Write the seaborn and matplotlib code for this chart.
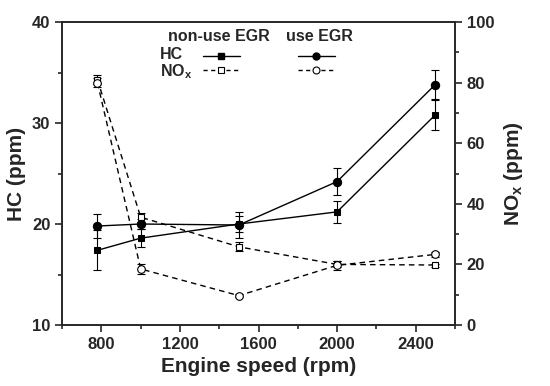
import numpy as np
import pandas as pd
import matplotlib
matplotlib.use('Agg')
import matplotlib.pyplot as plt
import seaborn as sns

# --- data ---
speed = [780, 1000, 1500, 2000, 2500]

hc_non = [17.4, 18.6, 20.0, 21.2, 30.8]
hc_non_err = [2.0, 0.9, 0.8, 1.1, 1.5]
hc_use = [19.8, 20.0, 19.9, 24.2, 33.8]
hc_use_err = [1.2, 0.5, 1.3, 1.3, 1.4]

nox_non = [80.9, 35.6, 25.8, 20.0, 19.8]
nox_non_err = [1.5, 1.5, 1.5, 1.0, 0.5]
nox_use = [79.9, 18.5, 9.7, 19.7, 23.3]
nox_use_err = [1.5, 1.5, 0.5, 1.5, 0.8]

sns.set_style('ticks')
plt.rcParams['font.family'] = ['Liberation Sans', 'DejaVu Sans']
plt.rcParams['font.weight'] = 'bold'
plt.rcParams['mathtext.default'] = 'regular'
plt.rcParams['axes.linewidth'] = 1.2

fig, ax = plt.subplots(figsize=(5.5, 3.86), dpi=100)
fig.subplots_adjust(left=0.113, right=0.827, top=0.943, bottom=0.158)
ax2 = ax.twinx()

df_hc = pd.DataFrame({'speed': speed, 'non': hc_non, 'use': hc_use})
df_nox = pd.DataFrame({'speed': speed, 'non': nox_non, 'use': nox_use})

err_kw = dict(fmt='none', ecolor='black', elinewidth=0.8, capsize=3, capthick=0.8)

# HC (left axis)
ax.errorbar(speed, hc_non, yerr=hc_non_err, **err_kw)
ax.errorbar(speed, hc_use, yerr=hc_use_err, **err_kw)
sns.lineplot(data=df_hc, x='speed', y='non', ax=ax, color='black', lw=1,
             marker='s', markersize=5, markerfacecolor='black', markeredgecolor='black')
sns.lineplot(data=df_hc, x='speed', y='use', ax=ax, color='black', lw=1,
             marker='o', markersize=6, markerfacecolor='black', markeredgecolor='black')

# NOx (right axis)
ax2.errorbar(speed, nox_non, yerr=nox_non_err, **err_kw)
ax2.errorbar(speed, nox_use, yerr=nox_use_err, **err_kw)
sns.lineplot(data=df_nox, x='speed', y='non', ax=ax2, color='black', lw=1, ls=(0, (4, 3)),
             marker='s', markersize=5, markerfacecolor='white', markeredgecolor='black',
             markeredgewidth=0.8)
sns.lineplot(data=df_nox, x='speed', y='use', ax=ax2, color='black', lw=1, ls=(0, (4, 3)),
             marker='o', markersize=5.5, markerfacecolor='white', markeredgecolor='black',
             markeredgewidth=0.8)

ax.set_xlim(600, 2600)
ax.set_ylim(10, 40)
ax2.set_ylim(0, 100)
ax.set_xticks([800, 1200, 1600, 2000, 2400])
ax.set_xticks(np.arange(600, 2601, 200), minor=True)
ax.set_yticks([10, 20, 30, 40])
ax.set_yticks(np.arange(10, 41, 5), minor=True)
ax2.set_yticks([0, 20, 40, 60, 80, 100])
ax2.set_yticks(np.arange(0, 101, 10), minor=True)

for a in (ax, ax2):
    a.tick_params(which='major', direction='out', length=5, width=1.2, labelsize=12)
    a.tick_params(which='minor', direction='out', length=3, width=1.2)
    for s in a.spines.values():
        s.set_visible(True)
        s.set_linewidth(1.2)
for lab in ax.get_xticklabels() + ax.get_yticklabels() + ax2.get_yticklabels():
    lab.set_fontweight('bold')

ax.set_xlabel('Engine speed (rpm)', fontsize=15, fontweight='bold', labelpad=4)
ax.set_ylabel('HC (ppm)', fontsize=15, fontweight='bold', labelpad=4)
ax2.set_ylabel('NO$_x$ (ppm)', fontsize=15, fontweight='bold', labelpad=6, rotation=90,
               va='top')

# custom legend block
tr = ax.transAxes
fs = 11.5
ax.text(0.40, 0.952, 'non-use EGR', transform=tr, ha='center', va='center', fontsize=fs, fontweight='bold')
ax.text(0.655, 0.952, 'use EGR', transform=tr, ha='center', va='center', fontsize=fs, fontweight='bold')
ax.text(0.25, 0.893, 'HC', transform=tr, ha='left', va='center', fontsize=fs, fontweight='bold')
ax.text(0.25, 0.836, 'NO$_x$', transform=tr, ha='left', va='center', fontsize=fs, fontweight='bold')
ax.plot([0.358, 0.4055, 0.453], [0.889, 0.889, 0.889], transform=tr, color='black', lw=1,
        marker='s', markersize=4.5, markevery=[1], clip_on=False)
ax.plot([0.60, 0.6475, 0.695], [0.889, 0.889, 0.889], transform=tr, color='black', lw=1,
        marker='o', markersize=5, markevery=[1], clip_on=False)
ax.plot([0.358, 0.4055, 0.453], [0.840, 0.840, 0.840], transform=tr, color='black', lw=1,
        ls=(0, (3, 2.5)), marker='s', markersize=4.5, markevery=[1], markerfacecolor='white',
        markeredgewidth=0.8, clip_on=False)
ax.plot([0.60, 0.6475, 0.695], [0.840, 0.840, 0.840], transform=tr, color='black', lw=1,
        ls=(0, (3, 2.5)), marker='o', markersize=5, markevery=[1], markerfacecolor='white',
        markeredgewidth=0.8, clip_on=False)

fig.savefig('out.png', dpi=100)
